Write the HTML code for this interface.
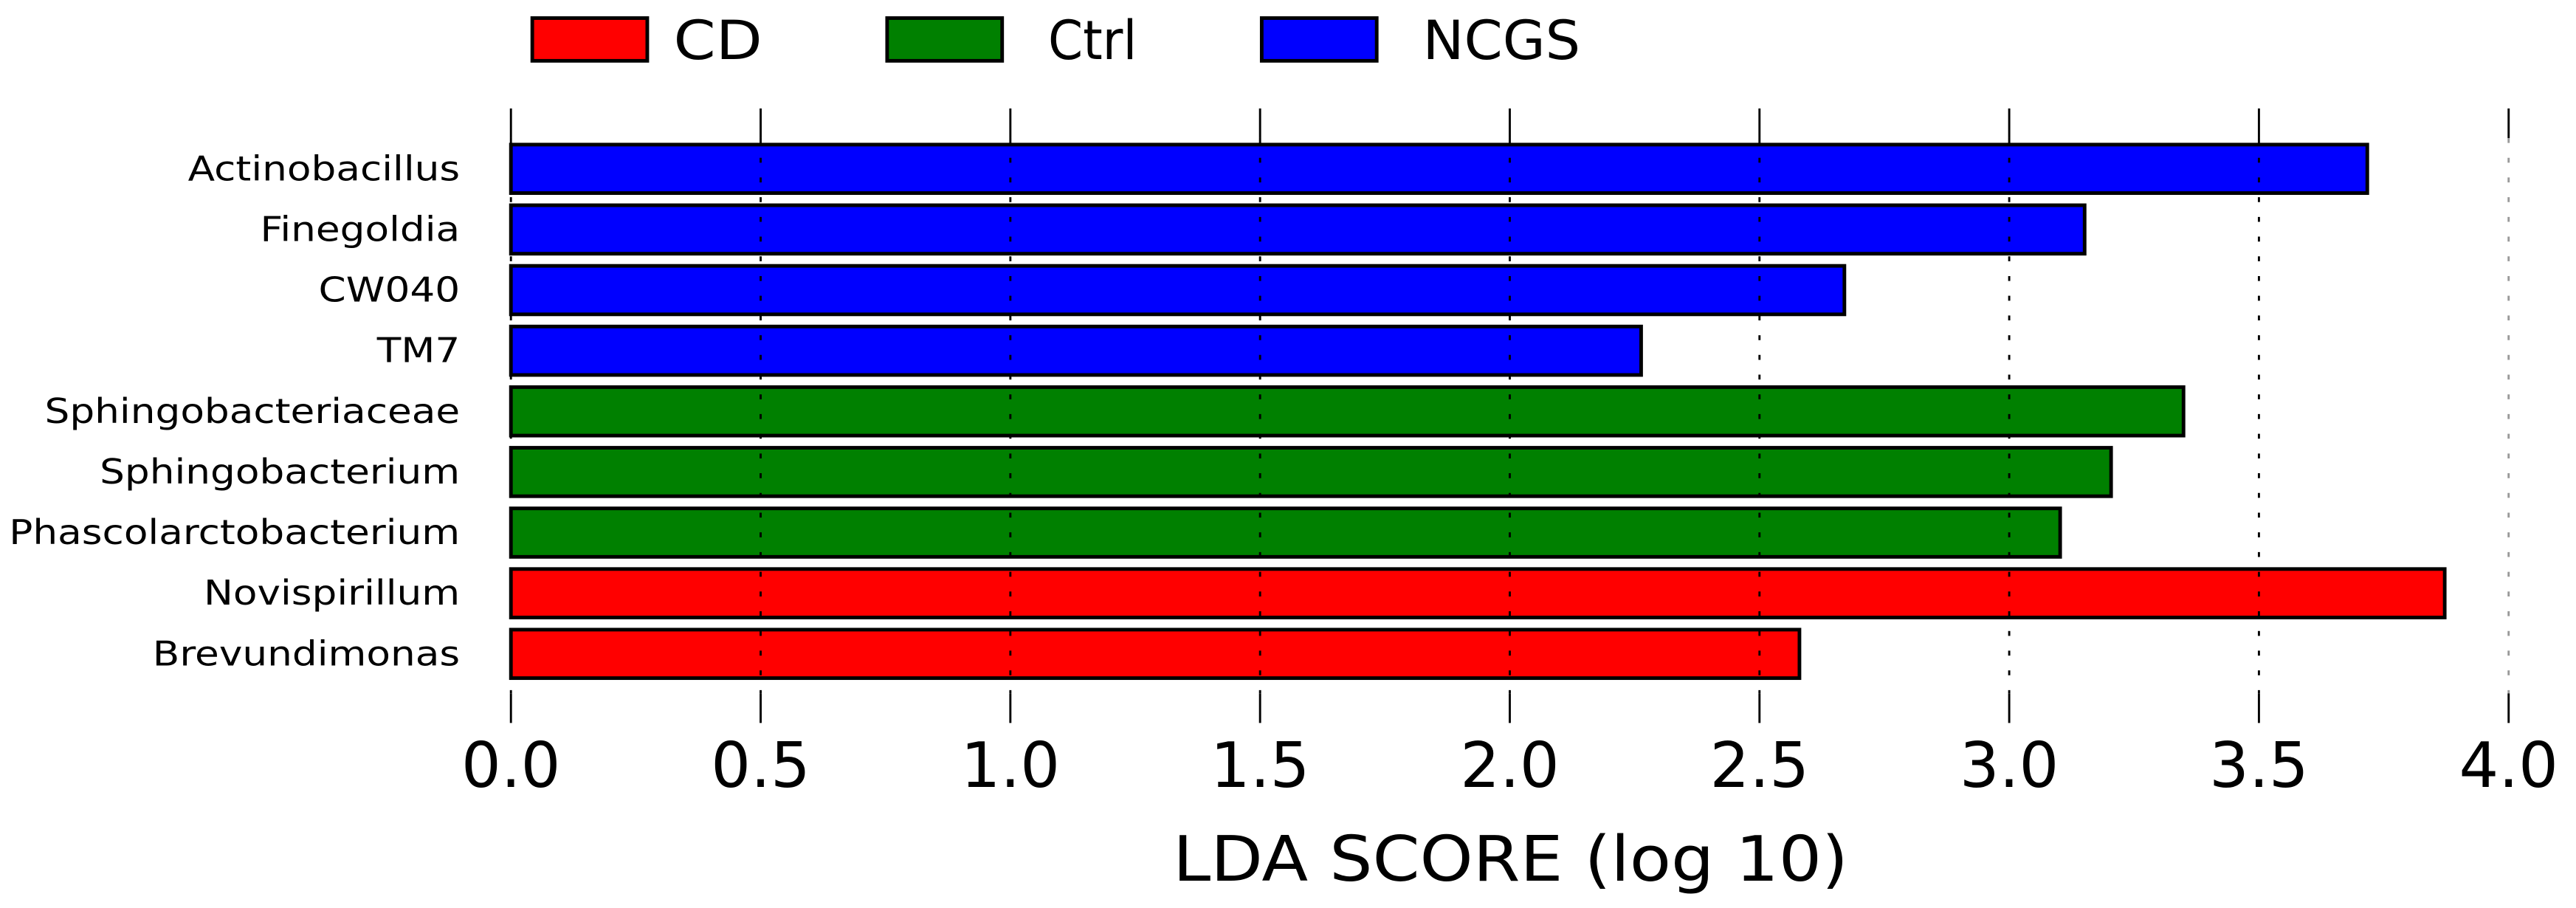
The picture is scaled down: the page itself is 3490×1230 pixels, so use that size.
<!DOCTYPE html>
<html><head><meta charset="utf-8"><style>html,body{margin:0;padding:0;background:#fff}svg{display:block}</style></head>
<body>
<svg id="chart" width="3490" height="1230" viewBox="0 0 1568 552.6" xmlns="http://www.w3.org/2000/svg" font-family="'DejaVu Sans','Liberation Sans',sans-serif">
<g>
<rect x="324" y="11" width="70" height="26" fill="#ff0000" stroke="#000" stroke-width="2.2"/>
<text x="410" y="36" font-size="33" textLength="54" lengthAdjust="spacingAndGlyphs">CD</text>
<rect x="540" y="11" width="70" height="26" fill="#008000" stroke="#000" stroke-width="2.2"/>
<text x="638" y="36" font-size="33" textLength="54" lengthAdjust="spacingAndGlyphs">Ctrl</text>
<rect x="768" y="11" width="70" height="26" fill="#0000ff" stroke="#000" stroke-width="2.2"/>
<text x="866" y="36" font-size="33" textLength="96" lengthAdjust="spacingAndGlyphs">NCGS</text>
</g>
<g id="bars"></g><g id="grid"></g><g id="axis"></g><g id="labels"></g>
<text x="714" y="536" font-size="38" textLength="411" lengthAdjust="spacingAndGlyphs">LDA SCORE (log 10)</text>
</svg>
<script>
const categories = ["Actinobacillus","Finegoldia","CW040","TM7","Sphingobacteriaceae","Sphingobacterium","Phascolarctobacterium","Novispirillum","Brevundimonas"];
const values = [3.717,3.151,2.67,2.263,3.349,3.204,3.102,3.872,2.58];
const groups = ["NCGS","NCGS","NCGS","NCGS","Ctrl","Ctrl","Ctrl","CD","CD"];
const tickValues = [0,0.5,1,1.5,2,2.5,3,3.5,4];
const tickLabels = ["0.0","0.5","1.0","1.5","2.0","2.5","3.0","3.5","4.0"];
const colors = {CD:"#ff0000",Ctrl:"#008000",NCGS:"#0000ff"};
const NS="http://www.w3.org/2000/svg";
const x = v => 311 + v*304;
const yTop = i => 88 + i*36.9;
const barH = 29.5;
function mk(tag, attrs, parent){const e=document.createElementNS(NS,tag);for(const k in attrs)e.setAttribute(k,attrs[k]);parent.appendChild(e);return e;}
const bars=document.getElementById('bars'), grid=document.getElementById('grid'), axis=document.getElementById('axis'), labels=document.getElementById('labels');
categories.forEach((c,i)=>{
  const r=mk('rect',{x:x(0),y:yTop(i),width:x(values[i])-x(0),height:barH,fill:colors[groups[i]],stroke:'#000','stroke-width':2.2},bars);
  
  
  const t=mk('text',{x:280,y:yTop(i)+barH/2+7,'font-size':21,'text-anchor':'end'},labels);
  t.textContent=c;
  
  
  const w=t.getComputedTextLength();
  t.setAttribute('textLength', (w*1.14).toFixed(1));
  t.setAttribute('lengthAdjust','spacingAndGlyphs');
});
tickValues.forEach((v,i)=>{
  const last = i===tickValues.length-1;
  const g=mk('line',{x1:x(v),x2:x(v),y1:84,y2:422,stroke:last?'#999':'#000','stroke-width':1.3,'stroke-dasharray':'3,9'},grid);
  
  
  const t1=mk('line',{x1:x(v),x2:x(v),y1:66,y2:84,stroke:'#000','stroke-width':1.3},axis);
  
  
  const t2=mk('line',{x1:x(v),x2:x(v),y1:422,y2:440,stroke:'#000','stroke-width':1.3},axis);
  
  
  const tl=mk('text',{x:x(v),y:479,'font-size':38,'text-anchor':'middle'},axis);
  tl.textContent=tickLabels[i];
  
  
});
</script>
</body></html>
